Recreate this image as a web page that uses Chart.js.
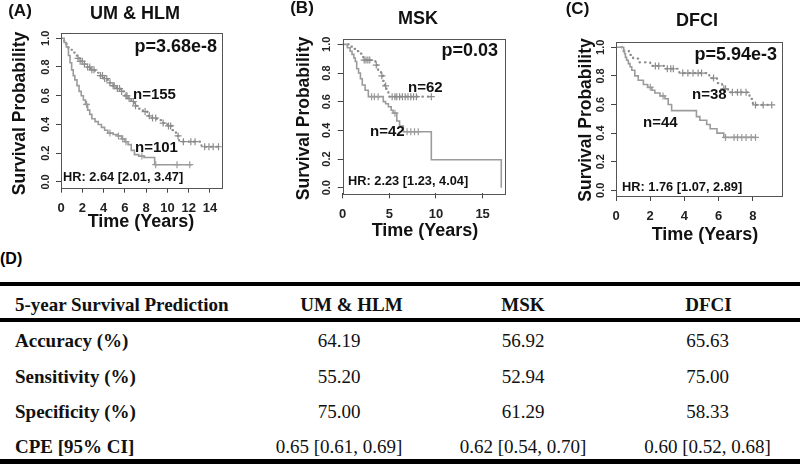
<!DOCTYPE html>
<html>
<head>
<meta charset="utf-8">
<script src="https://cdn.jsdelivr.net/npm/chart.js@4.4.1/dist/chart.umd.min.js"></script>
<style>
  html,body{margin:0;padding:0;background:#fff;}
  body{position:relative;width:800px;height:464px;overflow:hidden;font-family:"Liberation Sans",Arial,sans-serif;}
  canvas{position:absolute;top:0;}
  .rule{position:absolute;left:0;width:800px;background:#000;}
  .cell{position:absolute;font-family:"Liberation Serif","Times New Roman",serif;font-size:19px;line-height:1;white-space:nowrap;color:#111;}
  .cell.b{font-weight:bold;}
  .tag{position:absolute;left:0;top:250px;font:bold 16px "Liberation Sans",Arial,sans-serif;}
</style>
</head>
<body>
<canvas id="kmA" width="265" height="245" style="left:0px"></canvas>
<canvas id="kmB" width="268" height="245" style="left:265px"></canvas>
<canvas id="kmC" width="267" height="248" style="left:533px"></canvas>
<div class="tag">(D)</div>
<div id="table"></div>

<script>
// ---- data ----
const Y_TICKS = [0, 0.2, 0.4, 0.6, 0.8, 1.0];

// (A) UM & HLM
const A_X_TICKS = [0, 2, 4, 6, 8, 10, 12, 14];
const A_HIGH_T = [0, 0.3, 0.5, 0.7, 0.9, 1.1, 1.3, 1.5, 1.8, 2.1, 2.4, 2.8, 3.2, 3.6, 4.0, 4.4, 4.8, 5.2, 5.6, 6.0, 6.3, 6.6, 6.9, 7.3, 7.7, 8.1, 8.5, 9.0, 9.5, 10.0, 10.4, 10.8, 11.1, 13.2, 14.8];
const A_HIGH_S = [1.0, 0.98, 0.96, 0.935, 0.92, 0.90, 0.88, 0.86, 0.84, 0.82, 0.80, 0.78, 0.76, 0.74, 0.72, 0.69, 0.67, 0.65, 0.63, 0.60, 0.58, 0.56, 0.53, 0.51, 0.49, 0.46, 0.445, 0.43, 0.41, 0.39, 0.36, 0.32, 0.28, 0.245, 0.245];
const A_HIGH_CENS = [1.6, 1.8, 2.0, 2.2, 2.5, 2.7, 2.9, 3.1, 3.7, 3.9, 4.1, 4.3, 4.6, 4.9, 5.0, 5.3, 5.5, 5.7, 6.1, 6.2, 6.4, 6.8, 7.0, 7.9, 8.3, 8.6, 8.9, 9.6, 10.1, 10.3, 11.0, 11.5, 12.2, 12.6, 13.5, 13.9, 14.3, 14.8];
const A_LOW_T = [0, 0.3, 0.5, 0.7, 0.85, 1.0, 1.15, 1.3, 1.5, 1.7, 1.9, 2.1, 2.3, 2.5, 2.7, 2.9, 3.2, 3.5, 3.8, 4.1, 4.4, 4.9, 5.3, 5.7, 6.0, 6.3, 6.6, 6.9, 7.3, 7.8, 8.8, 12.3];
const A_LOW_S = [1.0, 0.97, 0.94, 0.88, 0.83, 0.78, 0.74, 0.71, 0.67, 0.63, 0.60, 0.57, 0.54, 0.50, 0.47, 0.44, 0.42, 0.40, 0.38, 0.36, 0.34, 0.33, 0.32, 0.30, 0.28, 0.26, 0.22, 0.19, 0.18, 0.17, 0.12, 0.12];
const A_LOW_CENS = [2.4, 4.6, 5.4, 5.8, 6.1, 7.6, 8.9, 10.9, 12.1];

// (B) MSK
const B_X_TICKS = [0, 5, 10, 15];
const B_HIGH_T = [0, 0.8, 1.2, 1.6, 1.9, 2.2, 3.5, 3.8, 4.1, 4.3, 4.5, 4.7, 4.9, 9.5];
const B_HIGH_S = [1.0, 0.984, 0.968, 0.952, 0.935, 0.89, 0.855, 0.82, 0.78, 0.745, 0.71, 0.67, 0.635, 0.635];
const B_HIGH_CENS = [2.3, 2.5, 2.7, 2.9, 3.6, 4.2, 4.6, 5.3, 5.6, 5.8, 6.1, 6.4, 6.7, 7.0, 7.3, 7.6, 7.9, 9.5];
const B_LOW_T = [0, 0.5, 0.8, 1.0, 1.2, 1.35, 1.5, 1.7, 1.9, 2.1, 2.4, 2.75, 4.35, 4.6, 4.9, 5.2, 5.4, 5.8, 6.1, 6.5, 9.5, 17.0];
const B_LOW_S = [1.0, 0.976, 0.952, 0.93, 0.905, 0.88, 0.83, 0.80, 0.76, 0.716, 0.68, 0.635, 0.60, 0.585, 0.565, 0.54, 0.52, 0.465, 0.43, 0.39, 0.195, 0.0];
const B_LOW_CENS = [3.1, 3.4, 3.8, 5.6, 6.9, 7.3, 7.7, 8.1];

// (C) DFCI
const C_X_TICKS = [0, 2, 4, 6, 8];
const C_HIGH_T = [0, 0.45, 0.75, 1.0, 1.3, 2.0, 2.8, 3.7, 5.45, 5.9, 6.2, 6.55, 7.8, 8.0, 9.1];
const C_HIGH_S = [1.0, 0.974, 0.947, 0.921, 0.895, 0.87, 0.85, 0.82, 0.785, 0.75, 0.71, 0.685, 0.64, 0.597, 0.597];
const C_HIGH_CENS = [2.3, 2.5, 3.0, 3.2, 3.35, 3.9, 4.2, 4.5, 4.8, 5.0, 5.7, 6.3, 6.4, 6.8, 7.1, 7.3, 7.6, 8.15, 8.6, 9.1];
const C_LOW_T = [0, 0.45, 0.5, 0.55, 0.62, 0.72, 0.82, 0.92, 1.1, 1.3, 1.6, 1.85, 2.1, 2.27, 2.57, 2.86, 3.05, 3.25, 4.7, 4.9, 5.3, 5.5, 5.9, 6.3, 8.2];
const C_LOW_S = [1.0, 0.977, 0.955, 0.93, 0.91, 0.886, 0.864, 0.84, 0.80, 0.77, 0.74, 0.72, 0.70, 0.68, 0.66, 0.64, 0.60, 0.557, 0.515, 0.49, 0.46, 0.43, 0.40, 0.37, 0.37];
const C_LOW_CENS = [2.0, 2.75, 6.4, 6.9, 7.1, 7.35, 7.6, 7.9, 8.15];

// (D) table
const TABLE_HEAD = ['5-year Survival Prediction', 'UM & HLM', 'MSK', 'DFCI'];
const TABLE_ROWS = ['Accuracy (%)', 'Sensitivity (%)', 'Specificity (%)', 'CPE [95% CI]'];
const COL_UM   = ['64.19', '55.20', '75.00', '0.65 [0.61, 0.69]'];
const COL_MSK  = ['56.92', '52.94', '61.29', '0.62 [0.54, 0.70]'];
const COL_DFCI = ['65.63', '75.00', '58.33', '0.60 [0.52, 0.68]'];

// ---- helpers ----
const SANS = '"Liberation Sans", Arial, sans-serif';
const LOW_COL = '#9b9b9b';
const HIGH_COL = '#8c8c8c';

function steps(ts, ss){ return ts.map((t, i) => ({x: t, y: ss[i]})); }
function survAt(ts, ss, t){
  let s = ss[0];
  for (let i = 0; i < ts.length; i++) if (ts[i] <= t) s = ss[i];
  return s;
}
function censPts(cens, ts, ss){ return cens.map(t => ({x: t, y: survAt(ts, ss, t)})); }

function kmChart(id, o){
  const textPlugin = {
    id: 'kmText',
    afterDraw(chart){
      const ctx = chart.ctx, ca = chart.chartArea, ys = chart.scales.y;
      ctx.save();
      // frame
      ctx.strokeStyle = '#555';
      ctx.lineWidth = 1;
      ctx.strokeRect(Math.round(ca.left) + 0.5, Math.round(ca.top) + 0.5, Math.round(ca.width), Math.round(ca.height));
      // y tick labels, rotated like R
      ctx.fillStyle = '#222';
      ctx.font = 'bold 11px ' + SANS;
      ctx.textAlign = 'center';
      ctx.textBaseline = 'middle';
      ys.ticks.forEach(t => {
        ctx.save();
        ctx.translate(ca.left - 15.5, ys.getPixelForValue(t.value));
        ctx.rotate(-Math.PI / 2);
        ctx.fillText(t.value.toFixed(1), 0, 0);
        ctx.restore();
      });
      // labels
      o.labels.forEach(l => {
        ctx.save();
        ctx.fillStyle = '#111';
        ctx.font = 'bold ' + l.size + 'px ' + SANS;
        ctx.textAlign = l.align || 'center';
        ctx.textBaseline = 'middle';
        ctx.translate(l.x, l.y);
        if (l.rot) ctx.rotate(-Math.PI / 2);
        ctx.fillText(l.text, 0, 0);
        ctx.restore();
      });
      ctx.restore();
    }
  };

  const cross = (col) => ({
    type: 'line', showLine: false, pointStyle: 'cross', pointRadius: 3.5,
    pointBorderColor: col, pointBorderWidth: 1.2, pointBackgroundColor: col
  });

  return new Chart(document.getElementById(id), {
    type: 'line',
    data: { datasets: [
      { data: steps(o.lowT, o.lowS), stepped: true, borderColor: LOW_COL, borderWidth: 1.6, pointRadius: 0, fill: false },
      { data: steps(o.highT, o.highS), stepped: true, borderColor: HIGH_COL, borderWidth: 2.2,
        borderDash: [0.5, 5], borderCapStyle: 'round', pointRadius: 0, fill: false },
      Object.assign({ data: censPts(o.lowC, o.lowT, o.lowS) }, cross(LOW_COL)),
      Object.assign({ data: censPts(o.highC, o.highT, o.highS) }, cross(HIGH_COL)),
    ]},
    options: {
      responsive: false, animation: false, devicePixelRatio: 1,
      layout: { padding: { top: o.area.top, right: o.area.right, left: 0, bottom: 0 } },
      plugins: { legend: { display: false }, tooltip: { enabled: false } },
      scales: {
        x: {
          type: 'linear', min: 0, max: o.xMax,
          afterBuildTicks: s => { s.ticks = o.xTicks.map(v => ({ value: v })); },
          afterFit: s => { s.height = o.area.xh; },
          grid: { drawOnChartArea: false, tickLength: 5, color: '#444' },
          border: { display: false },
          ticks: { color: '#222', padding: 8, autoSkip: false, maxRotation: 0,
                   font: { family: SANS, size: 13, weight: 'bold' }, callback: v => String(v) }
        },
        y: {
          type: 'linear', min: -0.04, max: 1.04,
          afterBuildTicks: s => { s.ticks = Y_TICKS.map(v => ({ value: v })); },
          afterFit: s => { s.width = o.area.left; },
          grid: { drawOnChartArea: false, tickLength: 5, color: '#444' },
          border: { display: false },
          ticks: { display: false }
        }
      }
    },
    plugins: [textPlugin]
  });
}

function renderTable(){
  const LABEL_X = 15;
  const HEAD_X = [351.5, 523, 708.5];
  const VAL_X = [339, 523, 707.5];
  const HEAD_Y = 304;
  const ROW_Y = [340, 376, 411, 446];
  const cols = [COL_UM, COL_MSK, COL_DFCI];
  let html = `
    <div class="rule" style="top:282px;height:4px"></div>
    <div class="rule" style="top:318px;height:4px"></div>
    <div class="rule" style="top:459px;height:4.5px"></div>
    <div class="cell b" style="left:${LABEL_X}px;top:${HEAD_Y}px;transform:translateY(-50%)">${TABLE_HEAD[0]}</div>`;
  TABLE_HEAD.slice(1).forEach((h, i) => {
    html += `<div class="cell b" style="left:${HEAD_X[i]}px;top:${HEAD_Y}px;transform:translate(-50%,-50%)">${h.replace('&', '&amp;')}</div>`;
  });
  TABLE_ROWS.forEach((r, j) => {
    html += `<div class="cell b" style="left:${LABEL_X}px;top:${ROW_Y[j]}px;transform:translateY(-50%)">${r}</div>`;
    cols.forEach((c, i) => {
      html += `<div class="cell" style="left:${VAL_X[i]}px;top:${ROW_Y[j]}px;transform:translate(-50%,-50%)">${c[j]}</div>`;
    });
  });
  document.getElementById('table').innerHTML = html;
}

kmChart('kmA', {
  lowT: A_LOW_T, lowS: A_LOW_S, lowC: A_LOW_CENS,
  highT: A_HIGH_T, highS: A_HIGH_S, highC: A_HIGH_CENS,
  xTicks: A_X_TICKS, xMax: 15.1,
  area: { left: 61, top: 32.5, right: 43.3, xh: 57.3 },
  labels: [
    { text: '(A)', x: 20, y: 11, size: 17 },
    { text: 'UM & HLM', x: 135, y: 14, size: 18 },
    { text: 'Survival Probability', x: 20.5, y: 113.5, size: 17.5, rot: true },
    { text: 'Time (Years)', x: 141, y: 222, size: 18 },
    { text: 'p=3.68e-8', x: 217, y: 47, size: 18, align: 'right' },
    { text: 'n=155', x: 133, y: 95, size: 15, align: 'left' },
    { text: 'n=101', x: 135, y: 147.5, size: 15, align: 'left' },
    { text: 'HR: 2.64 [2.01, 3.47]', x: 63, y: 177, size: 12.8, align: 'left' },
  ]
});

kmChart('kmB', {
  lowT: B_LOW_T, lowS: B_LOW_S, lowC: B_LOW_CENS,
  highT: B_HIGH_T, highS: B_HIGH_S, highC: B_HIGH_CENS,
  xTicks: B_X_TICKS, xMax: 17.4,
  area: { left: 77.7, top: 38.6, right: 28, xh: 51.6 },
  labels: [
    { text: '(B)', x: 37, y: 8.5, size: 17 },
    { text: 'MSK', x: 153, y: 19, size: 18 },
    { text: 'Survival Probability', x: 39.5, y: 118.5, size: 17.5, rot: true },
    { text: 'Time (Years)', x: 160, y: 231, size: 18 },
    { text: 'p=0.03', x: 233, y: 51, size: 18, align: 'right' },
    { text: 'n=62', x: 143, y: 88, size: 15, align: 'left' },
    { text: 'n=42', x: 105, y: 132, size: 15, align: 'left' },
    { text: 'HR: 2.23 [1.23, 4.04]', x: 83, y: 181, size: 12.8, align: 'left' },
  ]
});

kmChart('kmC', {
  lowT: C_LOW_T, lowS: C_LOW_S, lowC: C_LOW_CENS,
  highT: C_HIGH_T, highS: C_HIGH_S, highC: C_HIGH_CENS,
  xTicks: C_X_TICKS, xMax: 9.7,
  area: { left: 83, top: 41.6, right: 18, xh: 52 },
  labels: [
    { text: '(C)', x: 44.5, y: 9, size: 17 },
    { text: 'DFCI', x: 164, y: 21, size: 18 },
    { text: 'Survival Probability', x: 53, y: 120, size: 17.5, rot: true },
    { text: 'Time (Years)', x: 172, y: 235, size: 18 },
    { text: 'p=5.94e-3', x: 244, y: 55, size: 18, align: 'right' },
    { text: 'n=38', x: 159, y: 95, size: 15, align: 'left' },
    { text: 'n=44', x: 110, y: 123, size: 15, align: 'left' },
    { text: 'HR: 1.76 [1.07, 2.89]', x: 89, y: 187, size: 12.8, align: 'left' },
  ]
});

renderTable();
</script>
</body>
</html>
